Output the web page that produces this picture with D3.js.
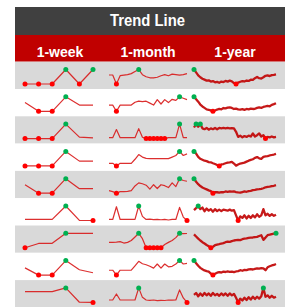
<!DOCTYPE html>
<html><head><meta charset="utf-8">
<script src="https://cdn.jsdelivr.net/npm/d3@7"></script>
<style>body{margin:0;background:#fff}svg{display:block}</style>
</head><body>
<script>
const title = "Trend Line";
const periods = ["1-week", "1-month", "1-year"];

const weekData = [
  [0,0,0,1,0,1],
  [0.6,0,0,1,0.43,0.43],
  [0,0,0,1,0.1,0.05],
  [0,0,0,1,0.33,0.33],
  [0.58,0,0,1,0.31,0.31],
  [0.08,0.08,0.08,1,0.01,0],
  [0,0.3,0.31,1,0.99,0.99],
  [0.5,0,0,1,0.37,0.16],
  [0.74,0.74,0.74,1,0.01,0]
];

const monthData = [
  [8.7,8.7,0,8,8.5,9,10,12,14,9,7,6,6,6.5,8,9,8,9.5,9,8.5,9,10],
  [5.7,5.7,0,5.7,5.7,5.7,5.7,8.3,9.3,8.8,9.3,7.5,5.7,10.7,6.7,10.7,8,11,10,13.3,12,10.7],
  [1,1,10,1,1,1,1,1,11,1.5,0,0,0,0,0,0,1,1,1,16,1,1],
  [2.7,2.7,0,2.7,2.7,2.7,2.7,7,12,9.3,8,7.7,7.7,7.7,7.7,7.7,7.7,9.3,11,15.3,11,12.7],
  [2.7,1.7,0,1.7,1.7,2,2.7,7.7,11,10,8.5,4.4,9,5,9,8,6,11,7,15.4,13.5,12.7],
  [1,1,13.3,1,1,1,1,1,14,4,1,1.3,0.8,1,0.7,1,0.5,1,1,12.7,3.3,0],
  [5,5,5.3,5.7,4.4,5,6.7,10,13.4,8.4,0,0,0,0,0,3,5,6.7,9.4,13.4,13.1,13.2],
  [4.7,4.7,0,4.7,4.7,4.7,4.7,9,13.3,11,10,8.5,6.7,10.7,6.7,10.7,8,8.5,10.7,14,10.7,11.3],
  [2.4,2.4,8.4,2.4,2.4,2.4,2.4,2.4,14.4,5,2.4,2,2.4,1.7,2,1.9,2.4,2.2,2.4,12.4,4.4,0]
];

const yearData = [
  [15,12,9,7,5.5,4.5,3.5,3.8,2.5,3,1.8,2.2,1.3,2.5,2,3.2,2.5,3.5,2.8,1,0,1.5,2.3,3,2.6,3.6,3.2,4.5,4.2,6,7.3,6,5.7,7,8.5,9,8.2,9.2,9.5,10],
  [15,12.5,10,7,5,3.5,2,1.5,1,0,0.8,1.8,2.4,2,3.4,3,3.8,4,3.5,2.4,2.8,2,1.7,2.2,1.5,2.4,2,2.8,2.4,2.6,3.5,4,3.6,4.5,5,5.6,5.2,6.7,7.4,8.4],
  [13,17,14,17,12,11,12.5,10.5,12,11,12.5,11,12.5,12,12.5,12,12.5,12,12.3,12,8,2,3.5,1.5,3,2,3.5,2.5,6,2.5,4,6,2.5,4,0,2,1.5,2.5,1.5,2],
  [15.3,13,9.5,7.5,6.5,5.5,5,4,3.8,2.8,2,1,0,1.5,2,2.8,3.5,3.8,4.3,2.5,0.3,1.5,2.5,3,3.5,4.5,5.5,6.3,7,8.5,9.3,8,7.5,9.5,10,10.3,11,11.5,12,12.7],
  [15.2,12,9.5,7.5,6,5,4,3,2.2,0,1.2,1,0.6,1.2,1,1.8,1.4,2,1.6,1.8,1.2,0.8,0.6,1.2,1.8,1.5,2.2,2.5,3.2,3.5,4,4.2,4.6,5.2,6.2,6.6,6.8,7.3,7.8,8.5],
  [10,12,14,11,12.5,9,11.5,9.5,11,8.5,11,9,10.5,9,10.5,10,9.5,10.5,9.5,10,5,0,4,2.5,5,2,4.5,2.5,5,3,6,3.5,5,11,5,6.5,4.5,6,4.5,5.5],
  [12.5,10.5,8.5,6.8,5.2,4,2.6,1.4,0,1,2.4,3,3.4,4,4.4,5.2,5.7,5.5,6.2,6.8,7.1,7.4,7.2,8,8.5,8.7,9.2,9.4,9.6,10,10.2,11,11.7,7.4,9.5,11.7,12.2,12.8,13.2,13.5],
  [14,11.5,9,7,5.7,4.5,3.8,3.3,1.5,0,1.2,2.3,2.8,2.5,3.3,3,3.5,3.2,3.4,2.8,3.5,3.8,4.7,4.2,5,4.8,5.5,5.7,5.4,6,6.5,6.2,6.7,6.5,4.7,7.5,8.5,9.3,9.8,10.7],
  [8,10,6.5,9.5,7,10,7.5,9.5,7,10,7.5,9,7,9.5,7.5,9.5,7,9.5,7.5,9,5,0,4,2,5,2.5,5.5,3,6,3.5,6,4,6.5,15.4,6,7.5,5,7,5,6]
];

const W = 285, H = 307;
const left = 15;
const svg = d3.select("body").append("svg").attr("width", W).attr("height", H);
const font = "'Liberation Sans', Arial, sans-serif";

// header
svg.append("rect").attr("x", left).attr("y", 7).attr("width", W - left).attr("height", 28).attr("fill", "#404040");
svg.append("text").attr("x", 147.5).attr("y", 25.7).attr("text-anchor", "middle")
  .attr("font-family", font).attr("font-size", 17).attr("font-weight", "bold")
  .attr("textLength", 75).attr("lengthAdjust", "spacingAndGlyphs")
  .attr("fill", "#fff").text(title);
svg.append("rect").attr("x", left).attr("y", 35).attr("width", W - left).attr("height", 26.7).attr("fill", "#c00000");

const cols = [
  {range: [25, 93], center: 60, data: weekData, stroke: "#d81818", sw: 1.2},
  {range: [109, 187], center: 148, data: monthData, stroke: "#d81818", sw: 1.2},
  {range: [194, 276], center: 235, data: yearData, stroke: "#c00000", sw: 2.3}
];

cols.forEach((c, i) => {
  svg.append("text").attr("x", c.center).attr("y", 56.7).attr("text-anchor", "middle")
    .attr("font-family", font).attr("font-size", 14).attr("font-weight", "bold")
    .attr("fill", "#fff").text(periods[i]);
});

const top0 = 61.7, rowH = 27.3, nRows = weekData.length;
const rowY = d3.scaleBand().domain(d3.range(nRows)).range([top0, top0 + rowH * nRows]);

svg.selectAll("rect.row").data(d3.range(nRows)).join("rect").attr("class", "row")
  .attr("x", left).attr("y", d => rowY(d)).attr("width", W - left).attr("height", rowY.bandwidth())
  .attr("fill", d => d % 2 === 0 ? "#d9d9d9" : "#ffffff");

cols.forEach(c => {
  c.data.forEach((vals, r) => {
    const t = rowY(r);
    const x = d3.scaleLinear().domain([0, vals.length - 1]).range(c.range);
    const y = d3.scaleLinear().domain(d3.extent(vals)).range([t + 22.3, t + 7.8]);
    const g = svg.append("g");
    g.append("path").datum(vals)
      .attr("d", d3.line().x((d, k) => x(k)).y(d => y(d)))
      .attr("fill", "none").attr("stroke", c.stroke).attr("stroke-width", c.sw)
      .attr("stroke-linejoin", "round").attr("opacity", 0.9);
    const mn = d3.min(vals), mx = d3.max(vals);
    const pts = vals.map((v, k) => ({k, v})).filter(p => p.v === mn || p.v === mx);
    g.selectAll("circle").data(pts).join("circle")
      .attr("cx", p => x(p.k)).attr("cy", p => y(p.v)).attr("r", 2.5)
      .attr("fill", p => p.v === mx ? "#00b050" : "#ff0000");
  });
});
</script>
</body></html>
